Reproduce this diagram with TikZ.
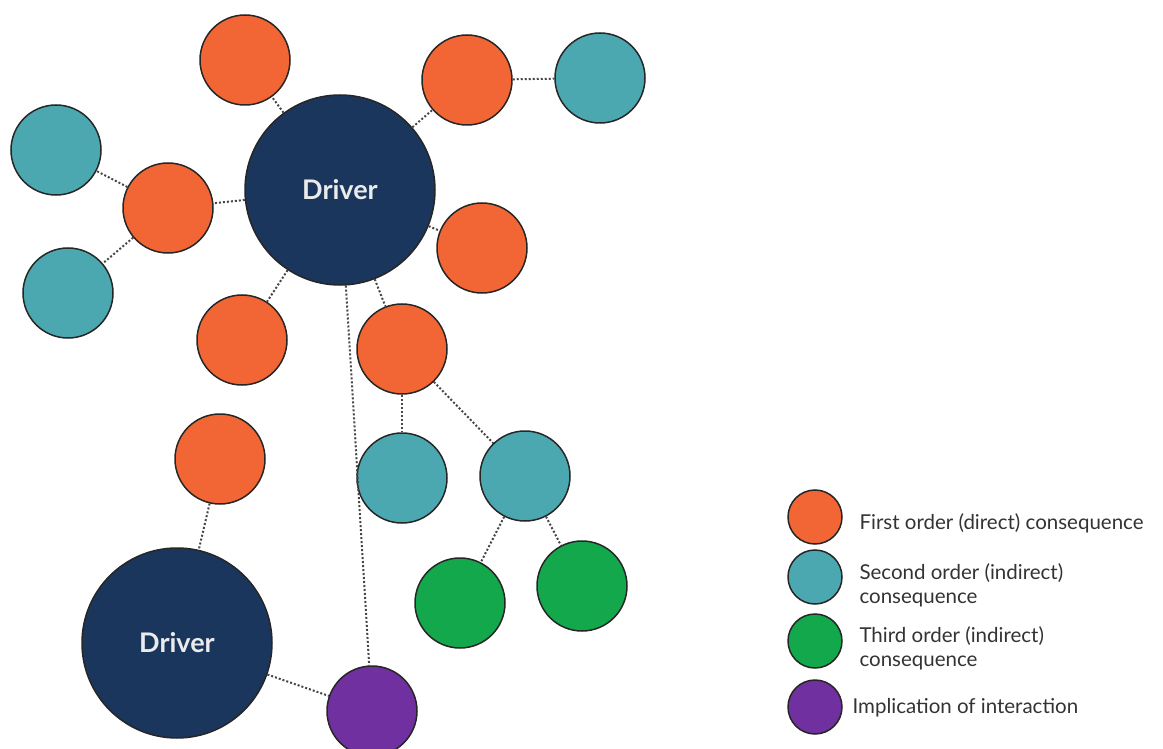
\documentclass[tikz,border=0pt]{standalone}
\usepackage{fontspec}
\setmainfont{Lato}
\usepackage{tikz}
\usetikzlibrary{positioning}
\definecolor{drivernavy}{RGB}{27, 54, 93}
\definecolor{firstorange}{RGB}{241, 102, 52}
\definecolor{secondteal}{RGB}{76, 168, 176}
\definecolor{thirdgreen}{RGB}{20, 168, 76}
\definecolor{interpurple}{RGB}{112, 48, 160}
\definecolor{linkgrey}{RGB}{70, 70, 70}

\begin{document}
\begin{tikzpicture}[x=1pt, y=-1pt,
    bubble/.style={circle, draw=black!85, line width=1.5pt, inner sep=0pt,
                   minimum size=90pt},
    driver/.style={bubble, fill=drivernavy, minimum size=190pt,
                   text=white!92!black, font=\fontsize{27}{30}\selectfont\bfseries},
    first/.style={bubble, fill=firstorange},
    second/.style={bubble, fill=secondteal},
    third/.style={bubble, fill=thirdgreen},
    inter/.style={bubble, fill=interpurple},
    keydot/.style={minimum size=54pt},
    keytext/.style={anchor=west, align=left, text=black!80,
                    font=\fontsize{20.5}{24}\selectfont},
    link/.style={draw=linkgrey, line width=2pt, dotted}]
        \useasboundingbox (0,0) rectangle (1163,749);

        % drivers
        \node[driver] (drvA) at (340,190) {Driver};
        \node[driver] (drvB) at (177,643) {Driver};

        % first order
        \node[first] (fA) at (245,60) {};
        \node[first] (fB) at (467,80) {};
        \node[first] (fC) at (168,208) {};
        \node[first] (fD) at (482,248) {};
        \node[first] (fE) at (242,340) {};
        \node[first] (fF) at (402,349) {};
        \node[first] (fG) at (220,459) {};

        % second order
        \node[second] (sA) at (600,78) {};
        \node[second] (sB) at (56,150) {};
        \node[second] (sC) at (68,293) {};
        \node[second] (sD) at (402,478) {};
        \node[second] (sE) at (525,476) {};

        % third order
        \node[third] (tA) at (460,603) {};
        \node[third] (tB) at (582,586) {};

        % interaction
        \node[inter] (iA) at (372,711) {};

        \draw[link] (drvA) -- (fA);
        \draw[link] (drvA) -- (fB);
        \draw[link] (drvA) -- (fC);
        \draw[link] (drvA) -- (fD);
        \draw[link] (drvA) -- (fE);
        \draw[link] (drvA) -- (fF);
        \draw[link] (drvA) -- (iA);
        \draw[link] (fB) -- (sA);
        \draw[link] (fC) -- (sB);
        \draw[link] (fC) -- (sC);
        \draw[link] (fF) -- (sD);
        \draw[link] (fF) -- (sE);
        \draw[link] (sE) -- (tA);
        \draw[link] (sE) -- (tB);
        \draw[link] (fG) -- (drvB);
        \draw[link] (drvB) -- (iA);

        % legend
        \node[first, keydot] (kFirst) at (815,517) {};
        \node[second, keydot] (kSecond) at (815,577) {};
        \node[third, keydot] (kThird) at (815,641) {};
        \node[inter, keydot] (kInter) at (815,707) {};
        \node[keytext] (lFirst) at (856,523) {First order (direct) consequence};
        \node[keytext] (lSecond) at (856,585) {Second order (indirect)\\consequence};
        \node[keytext] (lThird) at (856,648) {Third order (indirect)\\consequence};
        \node[keytext] (lInter) at (849,708) {Implication of interaction};
      \end{tikzpicture}
\end{document}
